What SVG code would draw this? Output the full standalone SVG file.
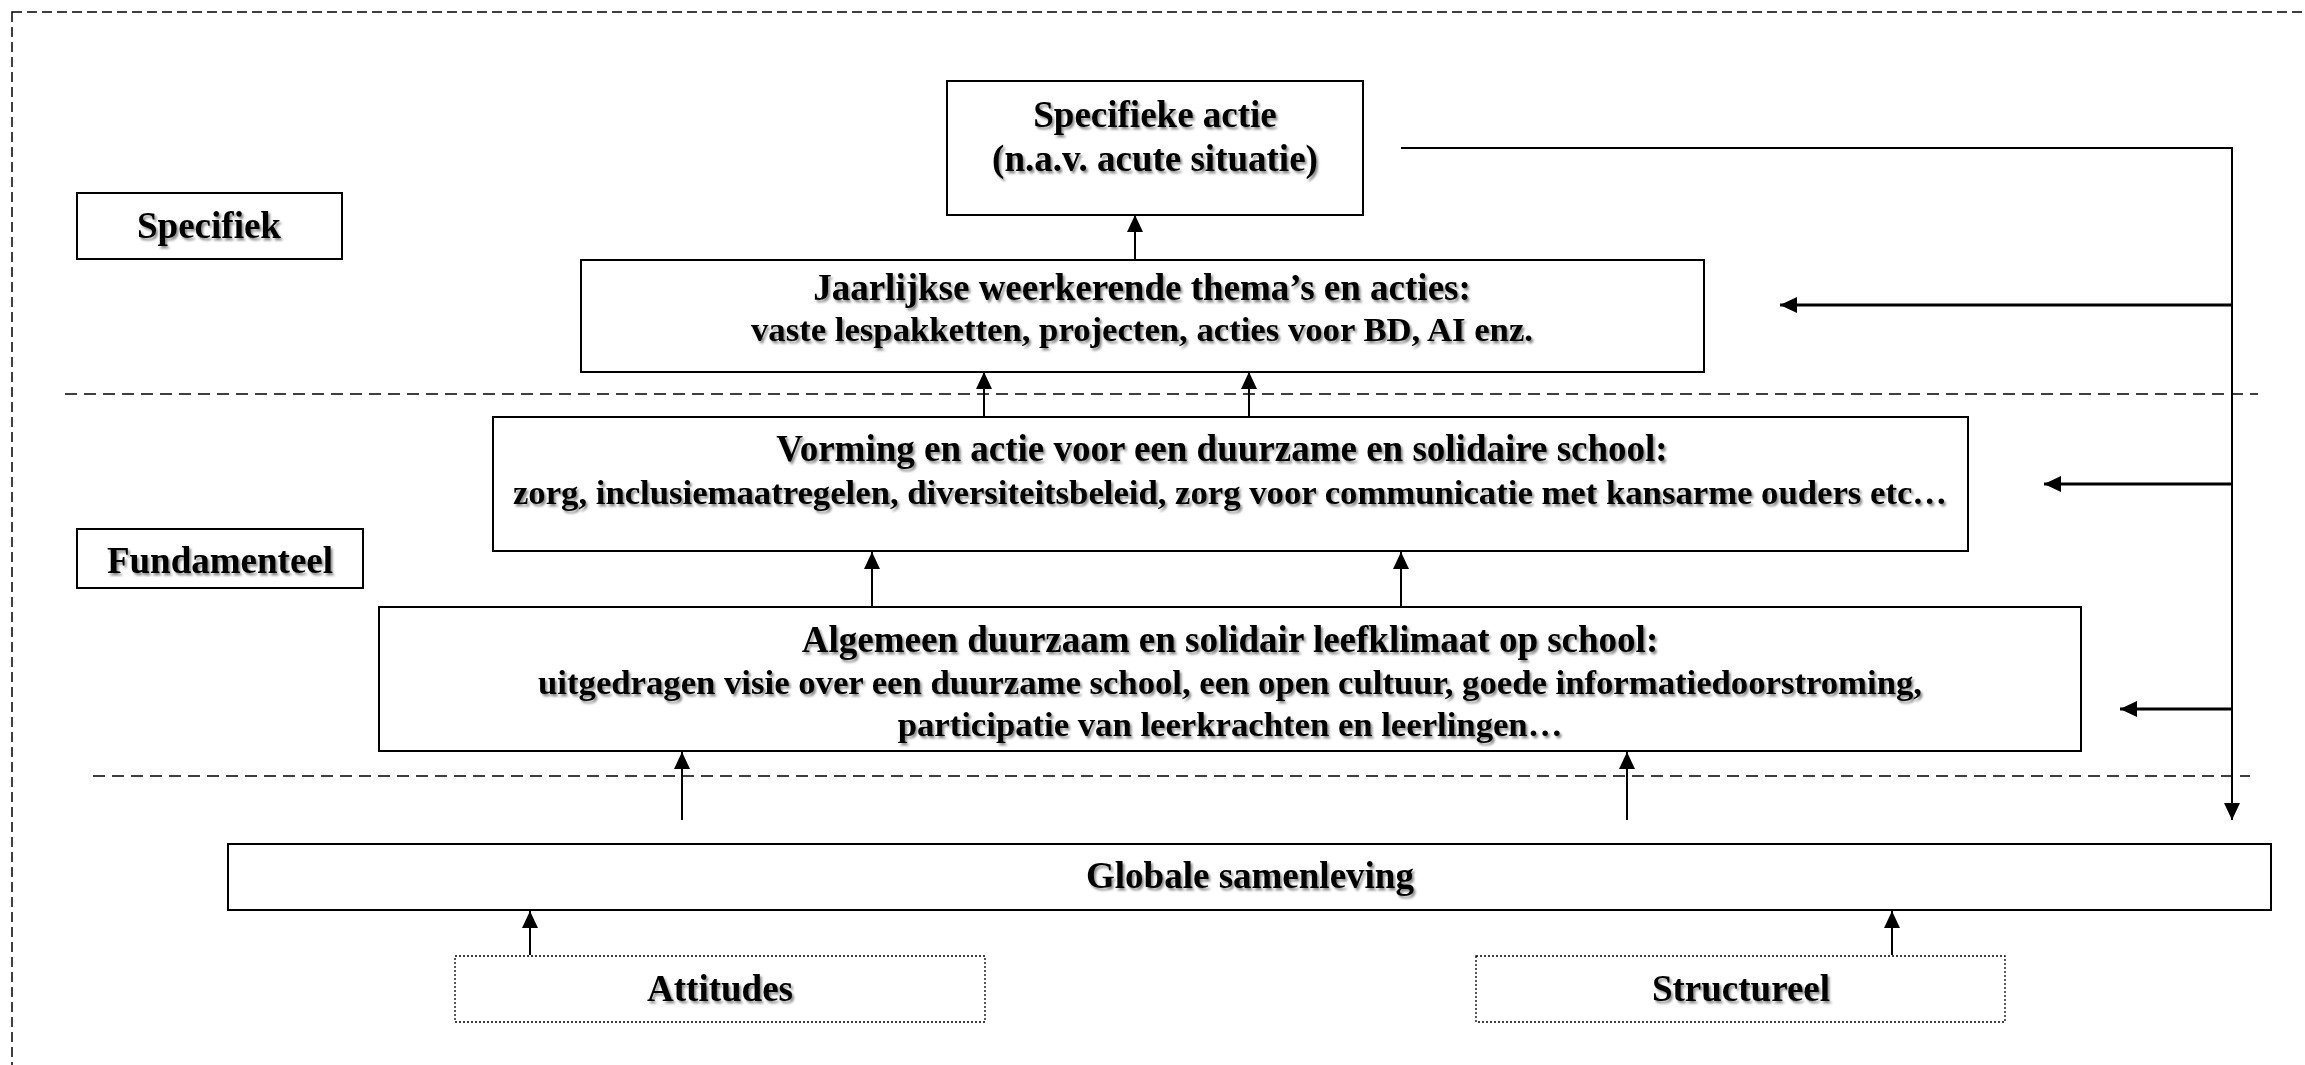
<svg xmlns="http://www.w3.org/2000/svg" width="2305" height="1065" viewBox="0 0 2305 1065">
<style>
.box{fill:#fff;stroke:#000;stroke-width:2}
.dot{fill:#fff;stroke:#000;stroke-width:1.3;stroke-dasharray:2 2}
.t{font-family:"Liberation Serif","Times New Roman",serif;font-weight:bold;font-size:37px;text-anchor:middle;fill:#000;filter:url(#sh)}
.s{font-size:34.7px}
.c{stroke:#000;stroke-width:2;fill:none}
.ct{stroke:#000;stroke-width:3;fill:none}
.dash{stroke:#000;stroke-width:1.6;stroke-dasharray:12 7;fill:none}
</style>
<defs>
<filter id="sh" x="-5%" y="-20%" width="110%" height="150%">
<feDropShadow dx="2" dy="2.5" stdDeviation="1.2" flood-color="#000" flood-opacity="0.45"/>
</filter>
<marker id="ah" markerUnits="userSpaceOnUse" markerWidth="18" markerHeight="16" refX="17" refY="8" orient="auto">
<path d="M0,0 L17,8 L0,16 z" fill="#000"/>
</marker>
</defs>
<rect x="12" y="12" width="2400" height="1100" fill="none" stroke="#000" stroke-width="1.5" stroke-dasharray="10 5"/>
<g id="separators">
<line class="dash" x1="65" y1="394" x2="2258" y2="394"/>
<line class="dash" x1="93" y1="776" x2="2250" y2="776"/>
</g>
<g id="connectors">
<line class="c" x1="1135" y1="260" x2="1135" y2="215" marker-end="url(#ah)"/>
<line class="c" x1="984" y1="417" x2="984" y2="372" marker-end="url(#ah)"/>
<line class="c" x1="1249" y1="417" x2="1249" y2="372" marker-end="url(#ah)"/>
<line class="c" x1="872" y1="607" x2="872" y2="552" marker-end="url(#ah)"/>
<line class="c" x1="1401" y1="607" x2="1401" y2="552" marker-end="url(#ah)"/>
<line class="c" x1="682" y1="820" x2="682" y2="752" marker-end="url(#ah)"/>
<line class="c" x1="1627" y1="820" x2="1627" y2="752" marker-end="url(#ah)"/>
<line class="c" x1="530" y1="955" x2="530" y2="911" marker-end="url(#ah)"/>
<line class="c" x1="1892" y1="955" x2="1892" y2="911" marker-end="url(#ah)"/>
<polyline class="c" points="1401,148 2232,148 2232,820" marker-end="url(#ah)"/>
<line class="ct" x1="2232" y1="305" x2="1780" y2="305" marker-end="url(#ah)"/>
<line class="ct" x1="2232" y1="484" x2="2044" y2="484" marker-end="url(#ah)"/>
<line class="ct" x1="2232" y1="709" x2="2120" y2="709" marker-end="url(#ah)"/>
</g>
<g id="specifiek">
<rect class="box" x="77" y="193" width="265" height="66"/>
<text class="t" x="209" y="238">Specifiek</text>
</g>
<g id="fundamenteel">
<rect class="box" x="77" y="529" width="286" height="59"/>
<text class="t" x="220" y="573">Fundamenteel</text>
</g>
<g id="specifieke-actie">
<rect class="box" x="947" y="81" width="416" height="134"/>
<text class="t" x="1155" y="127">Specifieke actie</text>
<text class="t" x="1155" y="171">(n.a.v. acute situatie)</text>
</g>
<g id="jaarlijkse">
<rect class="box" x="581" y="260" width="1123" height="112"/>
<text class="t" x="1142" y="300">Jaarlijkse weerkerende thema’s en acties:</text>
<text class="t s" x="1142" y="341">vaste lespakketten, projecten, acties voor BD, AI enz.</text>
</g>
<g id="vorming">
<rect class="box" x="493" y="417" width="1475" height="134"/>
<text class="t" x="1222" y="461">Vorming en actie voor een duurzame en solidaire school:</text>
<text class="t s" x="1230" y="504">zorg, inclusiemaatregelen, diversiteitsbeleid, zorg voor communicatie met kansarme ouders etc…</text>
</g>
<g id="algemeen">
<rect class="box" x="379" y="607" width="1702" height="144"/>
<text class="t" x="1230" y="652">Algemeen duurzaam en solidair leefklimaat op school:</text>
<text class="t s" x="1230" y="694">uitgedragen visie over een duurzame school, een open cultuur, goede informatiedoorstroming,</text>
<text class="t s" x="1230" y="736">participatie van leerkrachten en leerlingen…</text>
</g>
<g id="globale">
<rect class="box" x="228" y="844" width="2043" height="66"/>
<text class="t" x="1250" y="888">Globale samenleving</text>
</g>
<g id="attitudes">
<rect class="dot" x="455" y="956" width="530" height="66"/>
<text class="t" x="720" y="1001">Attitudes</text>
</g>
<g id="structureel">
<rect class="dot" x="1476" y="956" width="529" height="66"/>
<text class="t" x="1741" y="1001">Structureel</text>
</g>
</svg>
